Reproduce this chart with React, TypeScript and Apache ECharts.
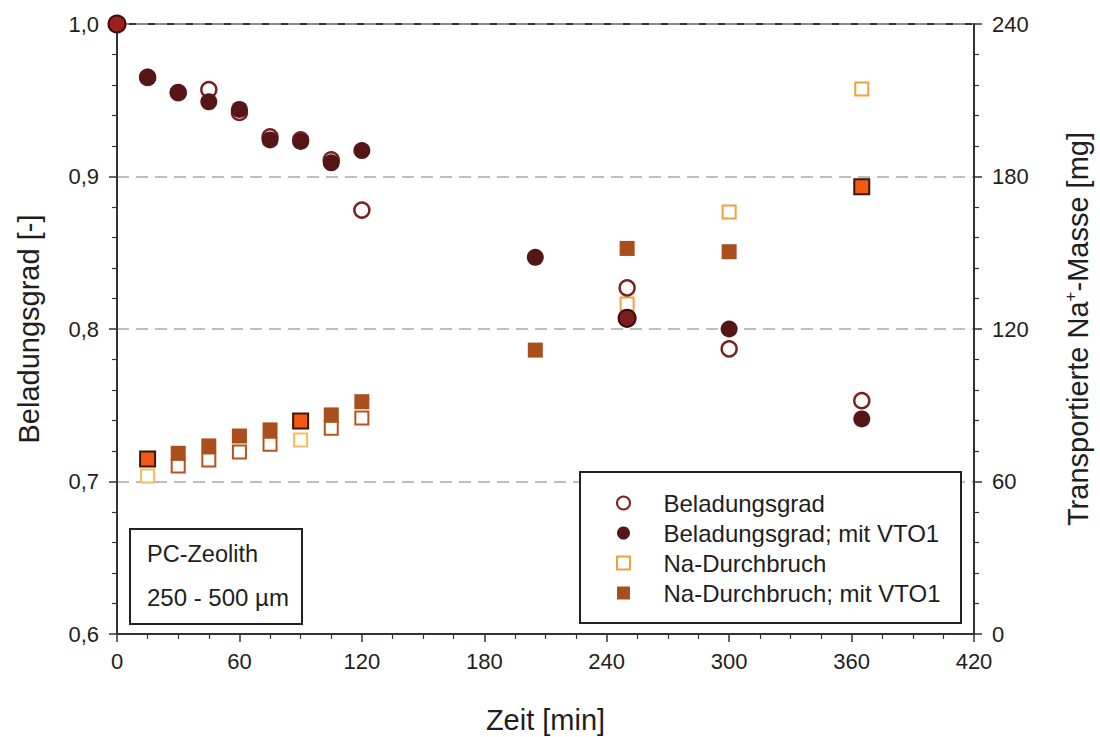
import React, { useEffect, useRef } from "react";
import * as echarts from "echarts";

// Beladungsgrad (left axis) and transported Na+ mass (right axis) over time
const beladungZeit = [0, 15, 30, 45, 60, 75, 90, 105, 120, 250, 300, 365];
const beladungsgrad = [1.0, 0.965, 0.955, 0.957, 0.942, 0.926, 0.924, 0.911, 0.878, 0.827, 0.787, 0.753];

const beladungVtoZeit = [0, 15, 30, 45, 60, 75, 90, 105, 120, 205, 250, 300, 365];
const beladungsgradVto = [1.0, 0.965, 0.955, 0.949, 0.944, 0.924, 0.923, 0.909, 0.917, 0.847, 0.807, 0.8, 0.741];

const naZeit = [15, 30, 45, 60, 75, 90, 105, 120, 250, 300, 365];
const naDurchbruch = [62.2, 66.1, 68.5, 71.6, 74.7, 76.3, 81.0, 85.0, 129.8, 166.0, 214.4];

const naVtoZeit = [15, 30, 45, 60, 75, 90, 105, 120, 205, 250, 300, 365];
const naDurchbruchVto = [68.9, 71.1, 74.0, 77.9, 80.3, 83.8, 86.2, 91.4, 111.7, 151.7, 150.4, 176.0];

const seriesNames = [
  "Beladungsgrad",
  "Beladungsgrad; mit VTO1",
  "Na-Durchbruch",
  "Na-Durchbruch; mit VTO1",
];

const FONT = "Liberation Sans, Arial, Helvetica, sans-serif";
const TEXT = "#1e1e1e";
const AXIS = "#333333";

const MAROON = "#551616";
const MAROON_RING = "#7a2222";
const ORANGE_LIGHT = "#f0a03c";
const ORANGE_BROWN = "#b4531d";
const ORANGE_FILL = "#a94f1c";

// points that were drawn with a highlighted marker
const hiCircle = new Set([0, 250]);
const hiSquare = new Set([15, 90, 365]);
const brownOpenSquare = new Set([30, 45, 60, 75, 105, 120]);

const squareIcon = "path://M0,0H10V10H0Z";

export default function App() {
  const ref = useRef<HTMLDivElement>(null);

  useEffect(() => {
    if (!ref.current) return;
    const chart = echarts.init(ref.current, null, { renderer: "svg" });

    const openCircles = beladungZeit.map((t, i) => [t, beladungsgrad[i]]);
    const filledCircles = beladungVtoZeit.map((t, i) => {
      const item: any = { value: [t, beladungsgradVto[i]] };
      if (hiCircle.has(t)) {
        item.itemStyle = { color: t === 0 ? "#9c1f1f" : "#7a1e1e", borderColor: "#3a0d0d", borderWidth: 2 };
      }
      return item;
    });
    const openSquares = naZeit.map((t, i) => {
      const item: any = { value: [t, naDurchbruch[i]] };
      if (brownOpenSquare.has(t)) {
        item.itemStyle = { borderColor: ORANGE_BROWN };
      } else if (t < 200) {
        item.itemStyle = { borderColor: "#f4bc5a" };
      }
      return item;
    });
    const filledSquares = naVtoZeit.map((t, i) => {
      const item: any = { value: [t, naDurchbruchVto[i]] };
      if (hiSquare.has(t)) {
        item.itemStyle = { color: "#f25a14", borderColor: "#3a160a", borderWidth: 2 };
      }
      return item;
    });

    const tickLabel = { fontSize: 22, color: TEXT, fontFamily: FONT };
    const axisLine = { show: true, onZero: false, lineStyle: { color: AXIS, width: 2 } };
    const titleStyle = { fontSize: 29, color: TEXT, fontFamily: FONT };

    chart.setOption({
      animation: false,
      backgroundColor: "#ffffff",
      textStyle: { fontFamily: FONT },
      grid: {
        left: 117,
        right: 126,
        top: 24,
        bottom: 103,
        outerBoundsMode: "none",
        containLabel: false,
        show: true,
        borderColor: AXIS,
        borderWidth: 2,
        backgroundColor: "transparent",
      },
      legend: {
        orient: "vertical",
        left: 611,
        top: 486,
        itemWidth: 70,
        itemHeight: 13,
        itemGap: 6,
        selectedMode: false,
        symbolKeepAspect: true,
        textStyle: { fontSize: 24, color: TEXT, fontFamily: FONT, lineHeight: 24 },
        data: [
          { name: seriesNames[0], icon: "circle" },
          { name: seriesNames[1], icon: "circle" },
          { name: seriesNames[2], icon: squareIcon },
          { name: seriesNames[3], icon: squareIcon },
        ],
        z: 10,
      },
      xAxis: {
        type: "value",
        min: 0,
        max: 420,
        interval: 60,
        name: "Zeit [min]",
        nameLocation: "middle",
        nameGap: 71,
        nameTextStyle: titleStyle,
        axisLine,
        axisTick: { show: true, length: 8, lineStyle: { color: AXIS, width: 1.5 } },
        minorTick: { show: true, splitNumber: 4, length: 5, lineStyle: { color: AXIS, width: 1.2 } },
        splitLine: { show: false },
        axisLabel: { ...tickLabel, margin: 16 },
      },
      yAxis: [
        {
          type: "value",
          min: 0.6,
          max: 1.0,
          interval: 0.1,
          name: "Beladungsgrad [-]",
          nameLocation: "middle",
          nameGap: 74,
          nameTextStyle: titleStyle,
          axisLine,
          axisTick: { show: true, length: 8, lineStyle: { color: AXIS, width: 1.5 } },
          minorTick: { show: true, splitNumber: 5, length: 5, lineStyle: { color: AXIS, width: 1.2 } },
          splitLine: { show: true, lineStyle: { color: "#a8a8a8", width: 1.5, type: [12, 7] } },
          axisLabel: {
            ...tickLabel,
            margin: 18,
            formatter: (v: number) => v.toFixed(1).replace(".", ","),
          },
        },
        {
          type: "value",
          position: "right",
          min: 0,
          max: 240,
          interval: 60,
          name: "{a|Transportierte Na}{s|+}{a|-Masse [mg]}",
          nameLocation: "middle",
          nameGap: 88,
          nameRotate: 90,
          nameTextStyle: {
            ...titleStyle,
            rich: {
              a: { fontSize: 29, color: TEXT, fontFamily: FONT, lineHeight: 32 },
              s: { fontSize: 17, color: TEXT, fontFamily: FONT, verticalAlign: "top", lineHeight: 32 },
            },
          },
          axisLine,
          axisTick: { show: true, length: 8, lineStyle: { color: AXIS, width: 1.5 } },
          minorTick: { show: true, splitNumber: 5, length: 5, lineStyle: { color: AXIS, width: 1.2 } },
          splitLine: { show: false },
          axisLabel: { ...tickLabel, margin: 18 },
        },
      ],
      graphic: [
        {
          type: "rect",
          z: 5,
          shape: { x: 580, y: 472, width: 381, height: 151 },
          style: { fill: "#ffffff", stroke: "#222222", lineWidth: 2 },
        },
        {
          type: "rect",
          z: 5,
          shape: { x: 130, y: 529, width: 172, height: 95 },
          style: { fill: "#ffffff", stroke: "#222222", lineWidth: 2 },
        },
        {
          type: "text",
          z: 6,
          x: 147,
          y: 554,
          style: { text: "PC-Zeolith", fontSize: 23.5, fill: TEXT, fontFamily: FONT, verticalAlign: "middle" },
        },
        {
          type: "text",
          z: 6,
          x: 147,
          y: 597,
          style: { text: "250 - 500 µm", fontSize: 24, fill: TEXT, fontFamily: FONT, verticalAlign: "middle" },
        },
      ],
      series: [
        {
          name: seriesNames[2],
          type: "scatter",
          yAxisIndex: 1,
          symbol: "rect",
          symbolSize: 13,
          itemStyle: { color: "#ffffff", borderColor: ORANGE_LIGHT, borderWidth: 2, opacity: 1 },
          data: openSquares,
          z: 2,
        },
        {
          name: seriesNames[3],
          type: "scatter",
          yAxisIndex: 1,
          symbol: "rect",
          symbolSize: 15,
          itemStyle: { color: ORANGE_FILL, borderColor: ORANGE_FILL, borderWidth: 0, opacity: 1 },
          data: filledSquares,
          z: 3,
        },
        {
          name: seriesNames[0],
          type: "scatter",
          yAxisIndex: 0,
          symbol: "circle",
          symbolSize: 15,
          itemStyle: { color: "#ffffff", borderColor: MAROON_RING, borderWidth: 2.5, opacity: 1 },
          data: openCircles,
          z: 4,
        },
        {
          name: seriesNames[1],
          type: "scatter",
          yAxisIndex: 0,
          symbol: "circle",
          symbolSize: 17,
          itemStyle: { color: MAROON, borderColor: MAROON, borderWidth: 0, opacity: 1 },
          data: filledCircles,
          z: 4,
        },
      ],
    });

    return () => chart.dispose();
  }, []);

  return (
    <div
      ref={ref}
      style={{ position: "fixed", left: 0, top: 0, width: 1100, height: 737, background: "#fff" }}
    />
  );
}
